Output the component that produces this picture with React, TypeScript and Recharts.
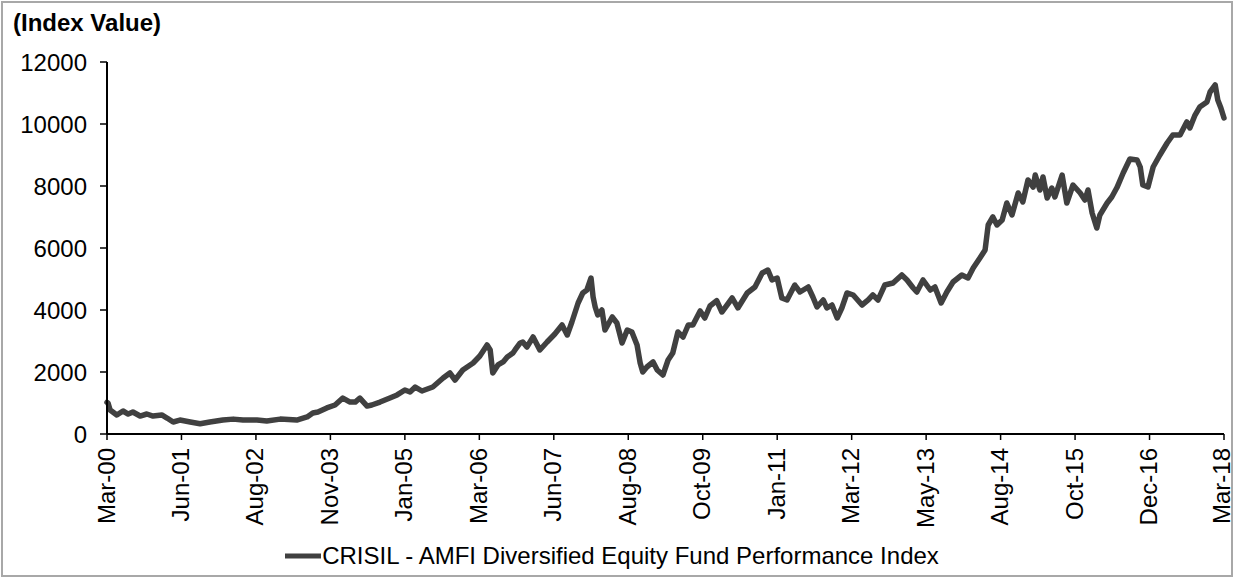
import { LineChart, Line, XAxis, YAxis, Legend } from "recharts";

const FONT = "'Liberation Sans', Arial, Helvetica, sans-serif";
const LINE_COLOR = "#404040";
const SERIES_NAME = "CRISIL - AMFI Diversified Equity Fund Performance Index";

// months elapsed since Mar-2000
const monthOffset = [
  0, 0.2, 0.6, 1.9, 3.1, 4.1, 5.0, 6.4, 7.7, 8.9, 10.6, 11.6, 12.8, 14.1, 16.1,
  18.0, 19.9, 22.4, 24.4, 26.3, 29.0, 30.9, 33.5, 36.7, 37.3, 38.7, 39.8, 40.8,
  42.5, 44.1, 45.6, 47.0, 48.0, 48.9, 50.3, 51.2, 52.8, 54.7, 56.1, 57.6, 58.6,
  59.6, 60.9, 63.0, 65.0, 66.3, 67.3, 68.8, 70.8, 72.1, 73.5, 74.1, 74.6, 75.6,
  76.6, 77.4, 78.5, 78.9, 79.9, 80.4, 81.2, 82.4, 83.7, 85.1, 86.6, 88.0, 89.0,
  89.9, 91.1, 92.0, 92.8, 93.6, 94.0, 94.4, 94.9, 95.7, 96.3, 97.7, 98.6, 99.6,
  100.6, 101.5, 102.5, 103.1, 103.6, 104.4, 105.6, 106.4, 107.5, 108.5, 109.4,
  110.4, 111.4, 112.4, 113.3, 114.7, 115.6, 116.6, 117.9, 118.9, 120.9, 122.0,
  123.8, 125.3, 126.7, 127.8, 128.6, 129.6, 130.5, 131.5, 133.0, 134.0, 135.6,
  136.5, 137.3, 138.5, 139.2, 140.2, 141.2, 142.1, 143.1, 144.3, 146.0, 147.2,
  148.1, 149.1, 150.4, 152.0, 153.7, 154.7, 155.9, 156.6, 157.8, 159.2, 160.1,
  161.3, 162.4, 163.6, 165.3, 166.5, 167.5, 168.8, 169.8, 170.4, 171.3, 172.1,
  173.1, 174.0, 175.0, 176.2, 177.1, 178.1, 179.1, 179.5, 180.4, 181.0, 181.8,
  182.7, 183.3, 184.7, 185.6, 186.8, 188.2, 189.1, 189.7, 190.5, 191.4, 192.0,
  193.4, 194.3, 195.3, 196.5, 197.8, 199.2, 199.8, 200.3, 201.3, 202.3, 203.6,
  205.0, 206.1, 207.5, 208.8, 209.4, 210.4, 211.3, 212.7, 213.3, 214.3, 214.8,
  215.4, 216.0,
];

const indexValue = [
  1020, 1000, 774, 613, 742, 645, 710, 580, 645, 580, 613, 516, 387, 450, 387,
  330, 387, 450, 480, 450, 450, 420, 480, 450, 480, 550, 677, 710,
  840, 935, 1160, 1030, 1030, 1160, 900, 935, 1030, 1160, 1260, 1420, 1355,
  1515, 1387, 1515, 1806, 1968, 1742, 2065, 2290, 2516, 2871, 2710, 1968, 2226,
  2323, 2484, 2613, 2710, 2936, 2968, 2806, 3129, 2710, 2968, 3226, 3516, 3194,
  3613, 4226, 4549, 4645, 5032, 4420, 4097, 3839, 4000, 3355, 3774, 3581, 2936,
  3355, 3290, 2871, 2290, 2000, 2161, 2323, 2065, 1903, 2387, 2613,
  3290, 3129, 3516, 3516, 3970, 3742, 4130, 4300, 3935, 4387, 4065,
  4549, 4742, 5194, 5290, 4968, 5032, 4387, 4323, 4806, 4581, 4742,
  4420, 4097, 4323, 4065, 4161, 3742, 4065, 4549, 4484, 4161, 4323,
  4484, 4323, 4806, 4871, 5129, 4968, 4710, 4581, 4968, 4645, 4742,
  4226, 4581, 4903, 5129, 5032, 5355, 5677, 5935, 6742, 7000, 6742,
  6903, 7452, 7065, 7774, 7484, 8194, 7968, 8355, 7871, 8290, 7613,
  7935, 7645, 8355, 7452, 8032, 7774, 7548, 7871, 7129, 6645, 7065,
  7452, 7645, 7950, 8419, 8871, 8839, 8613, 8032, 7968, 8613, 9000,
  9387, 9645, 9645, 10065, 9871, 10290, 10548, 10710, 11032, 11258, 10774,
  10516, 10194,
];

const tickLabels = [
  "Mar-00", "Jun-01", "Aug-02", "Nov-03", "Jan-05", "Mar-06", "Jun-07", "Aug-08",
  "Oct-09", "Jan-11", "Mar-12", "May-13", "Aug-14", "Oct-15", "Dec-16", "Mar-18",
];

const yTicks = [0, 2000, 4000, 6000, 8000, 10000, 12000];

const TOTAL_MONTHS = 216;
const tickStep = TOTAL_MONTHS / (tickLabels.length - 1);
const xTicks = tickLabels.map((_, i) => i * tickStep);

const data = monthOffset.map((t, i) => ({ t, value: indexValue[i] }));

function DateTick(props: any) {
  const { x, y, payload } = props;
  const idx = Math.round(payload.value / tickStep);
  // last label sits against the frame, nudge it in a little
  const shift = idx === tickLabels.length - 1 ? -3 : -1;
  return (
    <text
      x={0}
      y={0}
      transform={`translate(${x + shift},${y}) rotate(-90)`}
      textAnchor="end"
      dominantBaseline="central"
      fontSize={24}
      fontFamily={FONT}
      fill="#000"
    >
      {tickLabels[idx]}
    </text>
  );
}

function ValueTick(props: any) {
  const { x, y, payload } = props;
  return (
    <text
      x={x}
      y={y}
      textAnchor="end"
      dominantBaseline="central"
      fontSize={24}
      fontFamily={FONT}
      fill="#000"
    >
      {payload.value}
    </text>
  );
}

function LegendBox() {
  return (
    <div
      style={{
        display: "flex",
        justifyContent: "center",
        alignItems: "center",
        height: 44,
        fontFamily: FONT,
        fontSize: 24,
        color: "#000",
      }}
    >
      <svg width={36} height={10} style={{ marginRight: 1 }}>
        <line x1={0} y1={5} x2={36} y2={5} stroke={LINE_COLOR} strokeWidth={5} />
      </svg>
      <span>{SERIES_NAME}</span>
    </div>
  );
}

export default function App() {
  return (
    <div
      style={{
        position: "absolute",
        left: 0,
        top: 0,
        width: 1234,
        height: 578,
        background: "#fff",
        fontFamily: FONT,
      }}
    >
      <div
        style={{
          position: "absolute",
          left: 1,
          top: 1,
          width: 1232,
          height: 576,
          boxSizing: "border-box",
          border: "2px solid #a8a8a8",
          pointerEvents: "none",
        }}
      />
      <div
        style={{
          position: "absolute",
          left: 13,
          top: 9,
          fontSize: 24,
          fontWeight: "bold",
          color: "#000",
          whiteSpace: "nowrap",
        }}
      >
        (Index Value)
      </div>
      <LineChart
        width={1234}
        height={578}
        data={data}
        margin={{ top: 62, right: 10, bottom: 0, left: 0 }}
      >
        <XAxis
          dataKey="t"
          type="number"
          domain={[0, TOTAL_MONTHS]}
          ticks={xTicks}
          interval={0}
          height={100}
          tick={<DateTick />}
          tickSize={6}
          tickMargin={8}
          axisLine={{ stroke: "#000", strokeWidth: 2 }}
          tickLine={{ stroke: "#000", strokeWidth: 1.5 }}
        />
        <YAxis
          domain={[0, 12000]}
          ticks={yTicks}
          interval={0}
          width={107}
          tickSize={7}
          tickMargin={13}
          tick={<ValueTick />}
          axisLine={{ stroke: "#000", strokeWidth: 2 }}
          tickLine={{ stroke: "#000", strokeWidth: 1.5 }}
        />
        <Legend verticalAlign="bottom" height={44} content={<LegendBox />} />
        <Line
          type="linear"
          dataKey="value"
          stroke={LINE_COLOR}
          strokeWidth={5.5}
          dot={false}
          isAnimationActive={false}
          strokeLinejoin="round"
          strokeLinecap="round"
        />
      </LineChart>
    </div>
  );
}
